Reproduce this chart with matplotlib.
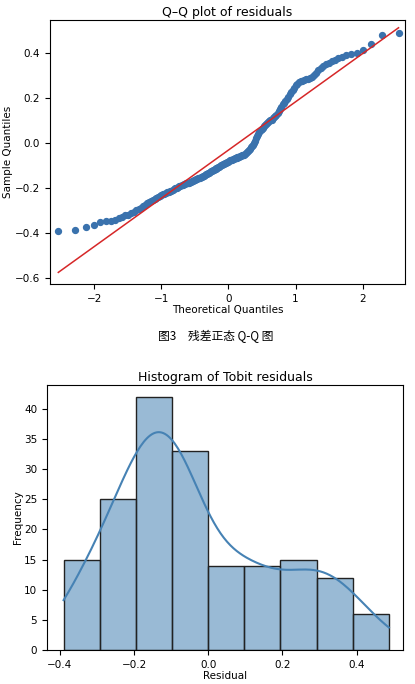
import numpy as np
import matplotlib
matplotlib.use('Agg')
import matplotlib.pyplot as plt
import seaborn as sns
from statistics import NormalDist

res_bin1 = [-0.39, -0.385, -0.375, -0.365, -0.352, -0.348, -0.345, -0.34, -0.335, -0.33,
            -0.322, -0.318, -0.31, -0.305, -0.298]
res_bin2 = [-0.292, -0.288, -0.282, -0.275, -0.268, -0.262, -0.258, -0.252, -0.248, -0.243,
            -0.238, -0.235, -0.232, -0.228, -0.225, -0.222, -0.22, -0.218, -0.215, -0.212,
            -0.208, -0.205, -0.202, -0.199, -0.196]
res_bin3 = [-0.193, -0.19, -0.188, -0.186, -0.184, -0.182, -0.18, -0.178, -0.176, -0.174,
            -0.172, -0.17, -0.168, -0.166, -0.164, -0.162, -0.16, -0.158, -0.155, -0.152,
            -0.15, -0.148, -0.145, -0.142, -0.14, -0.138, -0.135, -0.132, -0.13, -0.127,
            -0.125, -0.122, -0.12, -0.117, -0.115, -0.112, -0.11, -0.108, -0.105, -0.103,
            -0.1, -0.098]
res_bin4 = [-0.095, -0.092, -0.09, -0.088, -0.085, -0.083, -0.08, -0.078, -0.076, -0.074,
            -0.072, -0.07, -0.068, -0.067, -0.066, -0.065, -0.063, -0.062, -0.06, -0.058,
            -0.056, -0.054, -0.052, -0.05, -0.046, -0.042, -0.037, -0.032, -0.026, -0.02,
            -0.014, -0.008, -0.002]
res_bin5 = [0.01, 0.02, 0.03, 0.04, 0.05, 0.055, 0.06, 0.067, 0.073, 0.08, 0.085, 0.09,
            0.093, 0.096, 0.099]
res_bin6 = [0.103, 0.108, 0.113, 0.118, 0.123, 0.13, 0.14, 0.15, 0.16, 0.17, 0.178, 0.186, 0.194]
res_bin7 = [0.205, 0.215, 0.225, 0.235, 0.245, 0.255, 0.262, 0.268, 0.272, 0.275, 0.278,
            0.281, 0.284, 0.287, 0.292]
res_bin8 = [0.3, 0.31, 0.322, 0.332, 0.34, 0.348, 0.355, 0.362, 0.368, 0.375, 0.382, 0.388]
res_bin9 = [0.395, 0.398, 0.41, 0.44, 0.48, 0.487]

resid = np.sort(np.array(res_bin1 + res_bin2 + res_bin3 + res_bin4 + res_bin5
                         + res_bin6 + res_bin7 + res_bin8 + res_bin9))
n = len(resid)
theo = np.array([NormalDist().inv_cdf(i / (n + 1)) for i in range(1, n + 1)])

plt.rcParams['font.size'] = 7.5

fig = plt.figure(figsize=(4.15, 6.84), dpi=100)

ax1 = fig.add_axes([0.12, 0.585, 0.856, 0.386])
ax1.scatter(theo, resid, s=18, color='#3a72ad', zorder=2)
slope, icpt = np.polyfit(theo, resid, 1)
ax1.plot(theo, slope * theo + icpt, color='#d62728', lw=1.1, zorder=3)
ax1.set_xlim(-2.66, 2.63)
ax1.set_ylim(-0.625, 0.545)
ax1.set_yticks([-0.6, -0.4, -0.2, 0.0, 0.2, 0.4])
ax1.set_title('Q–Q plot of residuals', fontsize=9, pad=3)
ax1.set_xlabel('Theoretical Quantiles', labelpad=1)
ax1.set_ylabel('Sample Quantiles', labelpad=1)

fig.text(0.52, 0.508, '图3　残差正态 Q-Q 图', ha='center', va='center', fontsize=8.5,
         family=['Noto Sans CJK SC', 'DejaVu Sans'])

ax2 = fig.add_axes([0.113, 0.05, 0.858, 0.387])
sns.histplot(resid, bins=9, kde=True, color='steelblue', edgecolor='#222222',
             alpha=0.55, linewidth=1.0, ax=ax2)
ax2.set_xlim(-0.435, 0.525)
ax2.set_ylim(0, 44)
ax2.set_title('Histogram of Tobit residuals', fontsize=9, pad=3)
ax2.set_xlabel('Residual', labelpad=1)
ax2.set_ylabel('Frequency', labelpad=1)

fig.savefig('out.png', dpi=100)
